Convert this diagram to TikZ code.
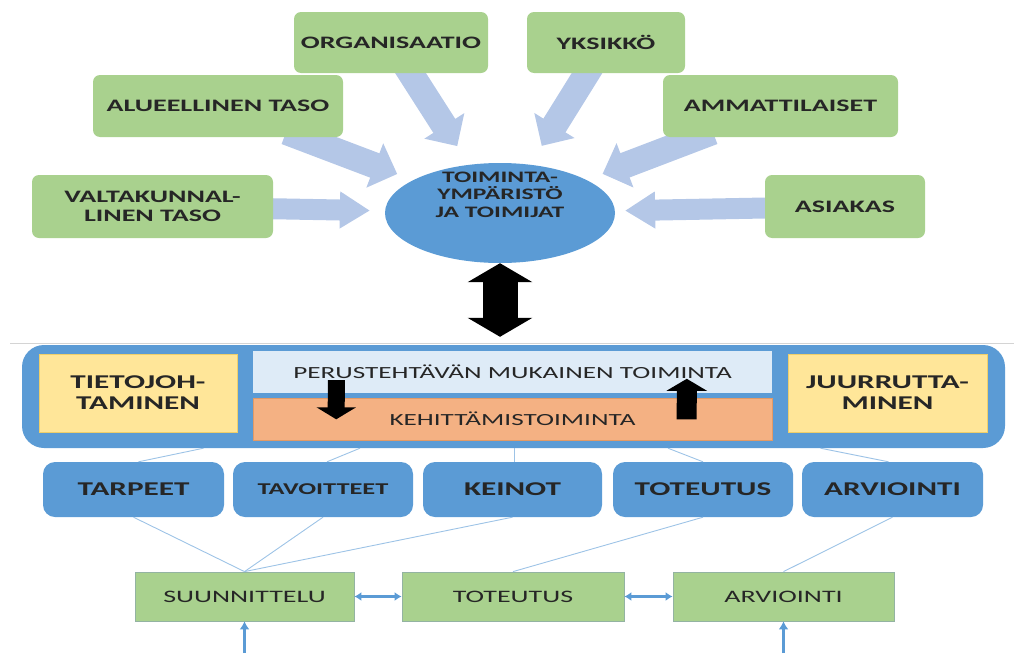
\documentclass[tikz,border=0pt]{standalone}
\usepackage{fontspec}
\setmainfont{Carlito}
\newfontfamily\labfont[FakeStretch=1.6]{Carlito}
\usetikzlibrary{arrows.meta,shapes.geometric,calc,backgrounds}
\definecolor{leaf}{HTML}{A9D18E}
\definecolor{leafedge}{HTML}{93B3A2}
\definecolor{sky}{HTML}{5B9BD5}
\definecolor{pale}{HTML}{B4C7E7}
\definecolor{mist}{HTML}{DEEBF7}
\definecolor{peach}{HTML}{F4B183}
\definecolor{peachedge}{HTML}{E29A66}
\definecolor{butter}{HTML}{FFE699}
\definecolor{butteredge}{HTML}{EFCF6A}
\definecolor{wire}{HTML}{9DC3E6}
\definecolor{ink}{HTML}{262626}
\definecolor{rule}{HTML}{D4D4D4}
\tikzset{
  lbl/.style={text=ink, align=center, inner sep=0pt},
  topbox/.style={lbl, fill=leaf, rounded corners=7pt,
    font=\labfont\bfseries\fontsize{17.5}{19}\selectfont},
  env/.style={ellipse, fill=sky, inner sep=0pt, minimum width=230pt, minimum height=100pt},
  envtext/.style={lbl, font=\labfont\bfseries\fontsize{16}{17.5}\selectfont},
  frame/.style={fill=sky, rounded corners=22pt},
  sidebox/.style={lbl, fill=butter, draw=butteredge, line width=0.8pt,
    minimum height=78pt, font=\labfont\bfseries\fontsize{19.5}{21}\selectfont},
  barbox/.style={lbl, minimum width=519pt, minimum height=42pt,
    font=\labfont\fontsize{17}{19}\selectfont},
  phase/.style={lbl, fill=sky, rounded corners=12pt, minimum height=55pt,
    font=\labfont\bfseries\fontsize{19.5}{21}\selectfont},
  stage/.style={lbl, fill=leaf, draw=leafedge, line width=0.8pt, minimum height=49pt,
    font=\labfont\fontsize{17.5}{19}\selectfont},
  blkd/.style={draw=pale, line width=26pt, -{Triangle[length=24pt,width=46pt]}},
  blkh/.style={draw=pale, line width=21pt, -{Triangle[length=30pt,width=35pt]}},
  conn/.style={draw=wire, line width=0.9pt},
  flow/.style={draw=sky, line width=2.6pt}
}
\begin{document}
\begin{tikzpicture}[x=1pt,y=-1pt]
\useasboundingbox (0,0) rectangle (1014,653);

% actors around the operating environment
\node[topbox, minimum width=194pt, minimum height=61pt] (org) at (391,42.5) {ORGANISAATIO};
\node[topbox, minimum width=158pt, minimum height=61pt] (yks) at (606,42.5) {YKSIKKÖ};
\node[topbox, minimum width=250pt, minimum height=62pt] (alu) at (218,106) {ALUEELLINEN TASO};
\node[topbox, minimum width=235pt, minimum height=62pt] (amm) at (780.5,106) {AMMATTILAISET};
\node[topbox, minimum width=241pt, minimum height=63pt] (val) at (152.5,206.5) {VALTAKUNNAL-\\LINEN TASO};
\node[topbox, minimum width=160pt, minimum height=63pt] (asi) at (845,206.5) {ASIAKAS};

\node[env] (env) at (500,213) {};
\node[envtext] (envlbl) at ([yshift=18.5pt]env.center) {TOIMINTA-\\YMPÄRISTÖ\\JA TOIMIJAT};

% separator
\coordinate (ruleL) at (10,343);
\coordinate (ruleR) at (1014,343);
\draw[rule, line width=1pt] (ruleL) -- (ruleR);

% activity frame
\node[frame, minimum width=983pt, minimum height=103pt] (frame) at (513.5,396.5) {};
\node[sidebox, minimum width=198pt] (tiet) at (138,393) {TIETOJOH-\\TAMINEN};
\node[sidebox, minimum width=199pt] (juur) at (887.5,393) {JUURRUTTA-\\MINEN};
\node[barbox, fill=mist] (perus) at (512.5,372) {PERUSTEHTÄVÄN MUKAINEN TOIMINTA};
\node[barbox, fill=peach, draw=peachedge, line width=0.6pt] (kehi) at (512.5,419) {KEHITTÄMISTOIMINTA};

\draw[line width=17pt, -{Triangle[length=12pt,width=39pt]}]
  ([xshift=83.5pt,yshift=13pt]perus.south west) -- ([xshift=83.5pt,yshift=21pt]kehi.south west);
\draw[line width=20pt, -{Triangle[length=12pt,width=40pt]}]
  ([xshift=434pt,yshift=21pt]kehi.south west) -- ([xshift=434pt,yshift=-28pt]perus.north west);

% phases
\node[phase, minimum width=181pt] (tarp) at (133.5,489.5) {TARPEET};
\node[phase, minimum width=180pt, font=\labfont\bfseries\fontsize{16.5}{18}\selectfont] (tavo) at (323,489.5) {TAVOITTEET};
\node[phase, minimum width=179pt] (kein) at (512.5,489.5) {KEINOT};
\node[phase, minimum width=180pt] (tote) at (703,489.5) {TOTEUTUS};
\node[phase, minimum width=181pt] (arvi) at (892.5,489.5) {ARVIOINTI};

% stages
\node[stage, minimum width=219pt] (suun) at (244.5,596.5) {SUUNNITTELU};
\node[stage, minimum width=222pt] (toteb) at (513,596.5) {TOTEUTUS};
\node[stage, minimum width=221pt] (arvib) at (783.5,596.5) {ARVIOINTI};

\coordinate (base) at (0,653);

% frame to phases
\draw[conn] ([xshift=5pt]tarp.north) -- ([xshift=70pt]tarp.north |- frame.south);
\draw[conn] ([xshift=4pt]tavo.north) -- ([xshift=37pt]tavo.north |- frame.south);
\draw[conn] ([xshift=2pt]kein.north) -- ([xshift=2pt]kein.north |- frame.south);
\draw[conn] (tote.north) -- ([xshift=-35pt]tote.north |- frame.south);
\draw[conn] ([xshift=-4pt]arvi.north) -- ([xshift=-72pt]arvi.north |- frame.south);

% phases to stages
\draw[conn] (tarp.south) -- (suun.north);
\draw[conn] (tavo.south) -- (suun.north);
\draw[conn] (kein.south) -- (suun.north);
\draw[conn] (tote.south) -- (toteb.north);
\draw[conn] (arvi.south) -- (arvib.north);

\draw[flow, {Latex[length=7pt,width=9pt]}-{Latex[length=7pt,width=9pt]}] (suun) -- (toteb);
\draw[flow, {Latex[length=7pt,width=9pt]}-{Latex[length=7pt,width=9pt]}] (toteb) -- (arvib);
\draw[flow, -{Latex[length=8pt,width=10pt]}] (suun.south |- base) -- (suun.south);
\draw[flow, -{Latex[length=8pt,width=10pt]}] (arvib.south |- base) -- (arvib.south);

% environment and frame interaction
\draw[line width=35pt, {Triangle[length=19pt,width=64pt]}-{Triangle[length=19pt,width=64pt]}]
  (env.south) -- ([yshift=8pt]env.south |- frame.north);

\begin{scope}[on background layer]
  \draw[blkd, shorten >=22pt, shorten <=-15pt] (org) -- (env);
  \draw[blkd, shorten >=22pt, shorten <=-15pt] (yks) -- (env);
  \draw[blkd, shorten >=17pt, shorten <=-15pt] (alu) -- (env);
  \draw[blkd, shorten >=17pt, shorten <=-15pt] (amm) -- (env);
  \draw[blkh, shorten >=15pt, shorten <=-10pt] (val) -- (env);
  \draw[blkh, shorten >=10pt, shorten <=-10pt] (asi) -- (env);
\end{scope}
\end{tikzpicture}
\end{document}
